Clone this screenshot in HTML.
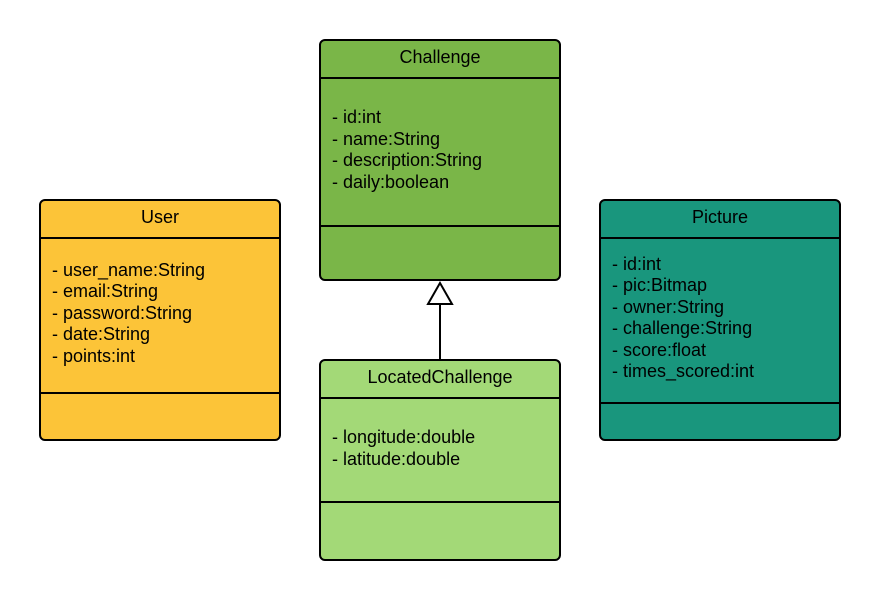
<!DOCTYPE html>
<html><head><meta charset="utf-8"><style>body{margin:0;background:#fff}</style></head><body>
<svg width="880" height="600" xmlns="http://www.w3.org/2000/svg" font-family="Liberation Sans, sans-serif" font-size="18" fill="#000">
<g stroke="#000" stroke-width="2">
<rect x="320" y="40" width="240" height="240" rx="5" fill="#7ab648"/>
<line x1="320" y1="78" x2="560" y2="78"/><line x1="320" y1="226" x2="560" y2="226"/>
<rect x="40" y="200" width="240" height="240" rx="5" fill="#fcc438"/>
<line x1="40" y1="238" x2="280" y2="238"/><line x1="40" y1="393" x2="280" y2="393"/>
<rect x="600" y="200" width="240" height="240" rx="5" fill="#19967d"/>
<line x1="600" y1="238" x2="840" y2="238"/><line x1="600" y1="403" x2="840" y2="403"/>
<rect x="320" y="360" width="240" height="200" rx="5" fill="#a3d977"/>
<line x1="320" y1="398" x2="560" y2="398"/><line x1="320" y1="502" x2="560" y2="502"/>
<line x1="440" y1="304" x2="440" y2="359"/>
<polygon points="440,283 428,304 452,304" fill="#fff"/>
</g>
<g text-anchor="middle">
<text x="440" y="63">Challenge</text>
<text x="160" y="223">User</text>
<text x="720" y="223">Picture</text>
<text x="440" y="383">LocatedChallenge</text>
</g>
<text x="332" y="123">- id:int</text>
<text x="332" y="145">- name:String</text>
<text x="332" y="166">- description:String</text>
<text x="332" y="188">- daily:boolean</text>
<text x="52" y="276">- user_name:String</text>
<text x="52" y="297">- email:String</text>
<text x="52" y="319">- password:String</text>
<text x="52" y="340">- date:String</text>
<text x="52" y="362">- points:int</text>
<text x="612" y="270">- id:int</text>
<text x="612" y="291">- pic:Bitmap</text>
<text x="612" y="313">- owner:String</text>
<text x="612" y="334">- challenge:String</text>
<text x="612" y="356">- score:float</text>
<text x="612" y="377">- times_scored:int</text>
<text x="332" y="443">- longitude:double</text>
<text x="332" y="465">- latitude:double</text>
</svg>
</body></html>
